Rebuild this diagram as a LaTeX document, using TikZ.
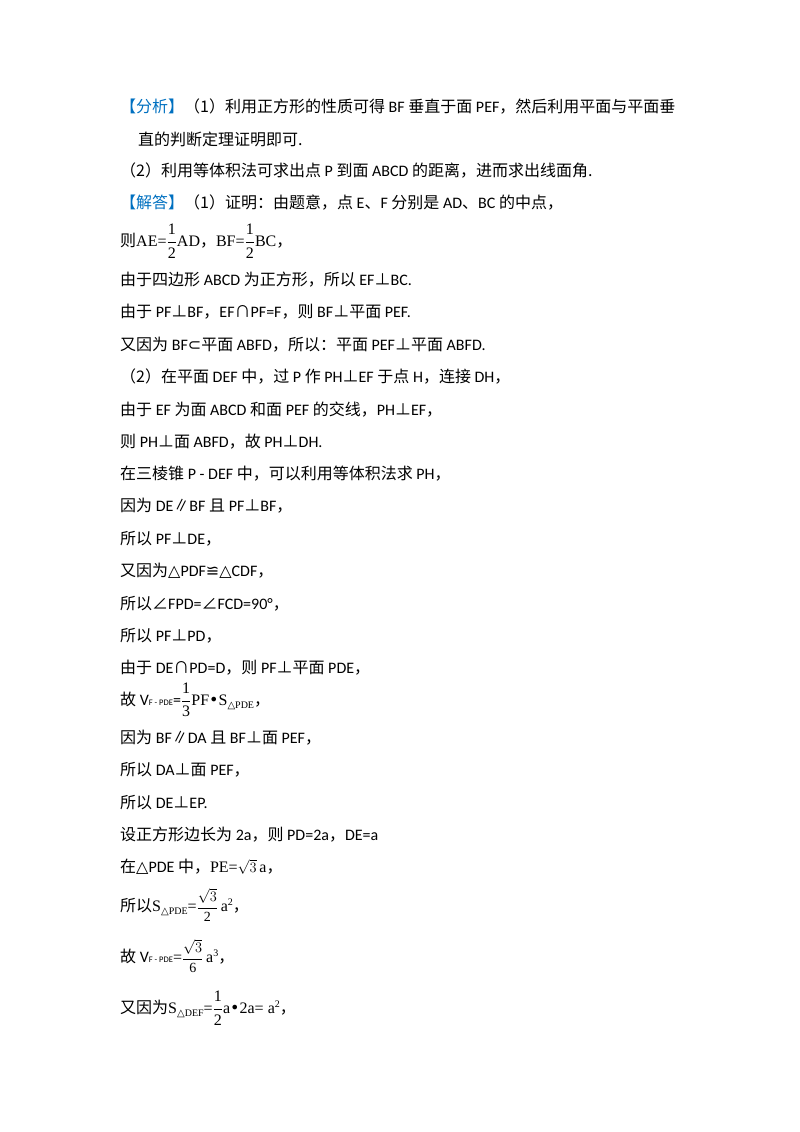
\documentclass[tikz,border=0pt]{standalone}
\usepackage{fontspec}
\setmainfont{Carlito}
\newfontfamily\cjk{Noto Sans CJK SC}
\newfontfamily\sym{DejaVu Sans}
\newfontfamily\ser{Liberation Serif}
\definecolor{hdblue}{RGB}{0,112,192}
\begin{document}
\begin{tikzpicture}[x=1pt,y=-1pt,
  ln/.style={anchor=west,inner sep=0pt,font=\fontsize{16}{17}\selectfont}]
\useasboundingbox (0,0) rectangle (800,1132);
\newcommand{\C}[1]{{\cjk #1}}
\newcommand{\pp}{{\cjk ⊥}}
\newcommand{\fr}[2]{$\displaystyle\frac{\mbox{\ser #1}}{\mbox{\ser #2}}$}
\newcommand{\sq}[1]{{\fontsize{14}{15}\selectfont$\displaystyle\frac{\sqrt{3}}{\mbox{\ser #1}}$}}
\newcommand{\sub}[1]{{\fontsize{10}{9}\selectfont\raisebox{-3pt}{{\sym △}\ser #1}}}
\newcommand{\sups}[1]{\raisebox{6pt}{\fontsize{10}{9}\selectfont\ser #1}}
\node[ln] (l1) at (120,107) {{\cjk\color{hdblue}【分析】}\C{（1）利用正方形的性质可得} BF \C{垂直于面} PEF\C{，然后利用平面与平面垂}};
\node[ln] (l2) at (138,139) {\C{直的判断定理证明即可.}};
\node[ln] (l3) at (120,171) {\C{（2）利用等体积法可求出点} P \C{到面} ABCD \C{的距离，进而求出线面角.}};
\node[ln] (l4) at (120,203) {{\cjk\color{hdblue}【解答】}\C{（1）证明：由题意，点} E\C{、}F \C{分别是} AD\C{、}BC \C{的中点，}};
\node[ln] (l5) at (120,241) {\C{则}{\ser AE=}\fr{1}{2}{\ser AD}\C{，}{\ser BF=}\fr{1}{2}{\ser BC}\C{，}};
\node[ln] (l6) at (120,280) {\C{由于四边形} ABCD \C{为正方形，所以} EF\pp BC.};
\node[ln] (l7) at (120,312) {\C{由于} PF\pp BF\C{，}EF{\cjk ∩}PF=F\C{，则} BF\pp\C{平面} PEF.};
\node[ln] (l8) at (120,345) {\C{又因为} BF{\sym ⊂}\C{平面} ABFD\C{，所以：平面} PEF\pp\C{平面} ABFD.};
\node[ln] (l9) at (120,377) {\C{（2）在平面} DEF \C{中，过} P \C{作} PH\pp EF \C{于点} H\C{，连接} DH\C{，}};
\node[ln] (l10) at (120,410) {\C{由于} EF \C{为面} ABCD \C{和面} PEF \C{的交线，}PH\pp EF\C{，}};
\node[ln] (l11) at (120,442) {\C{则} PH\pp\C{面} ABFD\C{，故} PH\pp DH.};
\node[ln] (l12) at (120,474) {\C{在三棱锥} P - DEF \C{中，可以利用等体积法求} PH\C{，}};
\node[ln] (l13) at (120,506) {\C{因为} DE{\cjk ∥}BF \C{且} PF\pp BF\C{，}};
\node[ln] (l14) at (120,539) {\C{所以} PF\pp DE\C{，}};
\node[ln] (l15) at (120,571) {\C{又因为}{\sym △}PDF{\sym ≌}{\sym △}CDF\C{，}};
\node[ln] (l16) at (120,604) {\C{所以}{\cjk ∠}FPD={\cjk ∠}FCD=90°\C{，}};
\node[ln] (l17) at (120,636) {\C{所以} PF\pp PD\C{，}};
\node[ln] (l18) at (120,668) {\C{由于} DE{\cjk ∩}PD=D\C{，则} PF\pp\C{平面} PDE\C{，}};
\node[ln] (l19) at (120,700) {\C{故} V{\fontsize{8.5}{9}\selectfont F - PDE}=\fr{1}{3}{\ser PF}{\sym •}{\ser S}\sub{PDE}\C{，}};
\node[ln] (l20) at (120,738) {\C{因为} BF{\cjk ∥}DA \C{且} BF\pp\C{面} PEF\C{，}};
\node[ln] (l21) at (120,770) {\C{所以} DA\pp\C{面} PEF\C{，}};
\node[ln] (l22) at (120,803) {\C{所以} DE\pp EP.};
\node[ln] (l23) at (120,835) {\C{设正方形边长为} 2a\C{，则} PD=2a\C{，}DE=a};
\node[ln] (l24) at (120,867) {\C{在}{\sym △}PDE \C{中，}{\ser PE=}{\fontsize{14}{15}\selectfont$\sqrt{3}$}\,{\ser a}\C{，}};
\node[ln] (l25) at (120,905) {\C{所以}{\ser S}\sub{PDE}{\ser =}\sq{2}\,{\ser a}\sups{2}\C{，}};
\node[ln] (l26) at (120,956) {\C{故} V{\fontsize{8.5}{9}\selectfont F - PDE}{\ser =}\sq{6}\,{\ser a}\sups{3}\C{，}};
\node[ln] (l27) at (120,1008) {\C{又因为}{\ser S}\sub{DEF}{\ser =}\fr{1}{2}{\ser a}{\sym •}{\ser 2a= a}\sups{2}\C{，}};
\end{tikzpicture}
\end{document}
